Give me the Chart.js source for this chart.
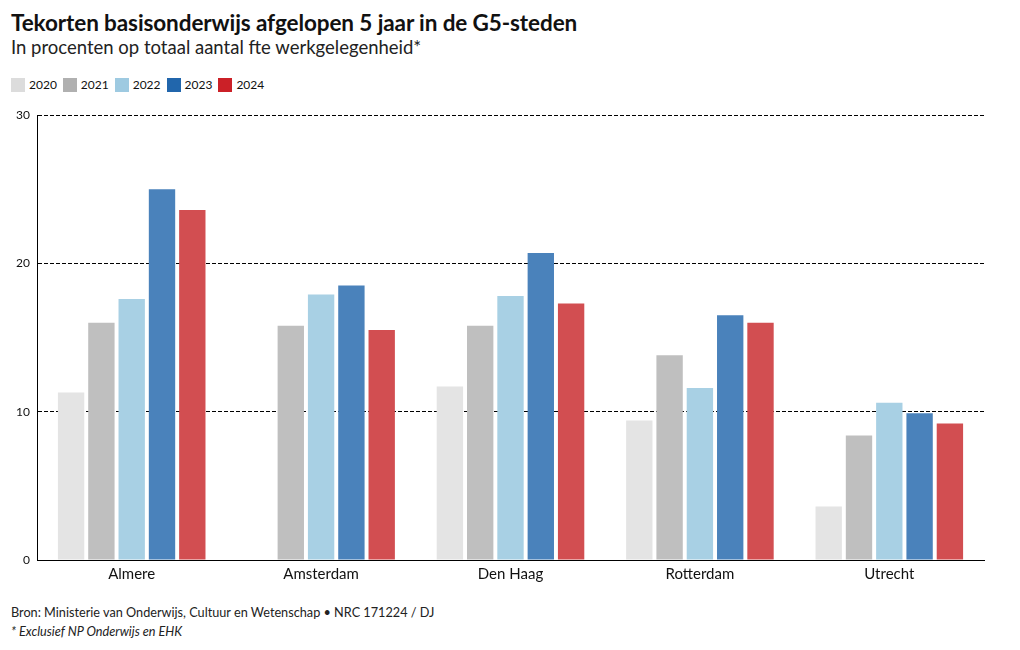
<!DOCTYPE html>
<html>
<head>
<meta charset="utf-8">
<script src="https://cdn.jsdelivr.net/npm/chart.js@4"></script>
<style>
  body { margin: 0; background: #fff; font-family: Lato, sans-serif; color: #111; }
  #wrap { position: relative; width: 1020px; height: 650px; }
  h1 { position: absolute; left: 11px; top: 9px; margin: 0; font-size: 22.5px; font-weight: 700; letter-spacing: -0.1px; }
  h2 { position: absolute; left: 11px; top: 36px; margin: 0; font-size: 18.5px; font-weight: 400; color: #222; }
  #legend { position: absolute; left: 11px; top: 77px; display: flex; font-size: 12px; }
  #legend span.item { display: flex; align-items: center; margin-right: 6px; }
  #legend i { display: inline-block; width: 14px; height: 14px; margin-right: 4px; }
  #chart-box { position: absolute; left: 0; top: 100px; width: 1020px; height: 490px; }
  .foot { position: absolute; left: 11px; margin: 0; font-size: 12.7px; color: #222; }
</style>
</head>
<body>
<div id="wrap">
  <h1>Tekorten basisonderwijs afgelopen 5 jaar in de G5-steden</h1>
  <h2>In procenten op totaal aantal fte werkgelegenheid*</h2>
  <div id="legend"></div>
  <div id="chart-box"><canvas id="chart"></canvas></div>
  <p class="foot" style="top:604px">Bron: Ministerie van Onderwijs, Cultuur en Wetenschap • NRC 171224 / DJ</p>
  <p class="foot" style="top:623px; font-style:italic">* Exclusief NP Onderwijs en EHK</p>
</div>
<script>
const cities = ['Almere', 'Amsterdam', 'Den Haag', 'Rotterdam', 'Utrecht'];
const years = ['2020', '2021', '2022', '2023', '2024'];

const values2020 = [11.3, null, 11.7, 9.4, 3.6];
const values2021 = [16.0, 15.8, 15.8, 13.8, 8.4];
const values2022 = [17.6, 17.9, 17.8, 11.6, 10.6];
const values2023 = [25.0, 18.5, 20.7, 16.5, 9.9];
const values2024 = [23.6, 15.5, 17.3, 16.0, 9.2];

const yTicks = [0, 10, 20, 30];

const legendColors = ['#dcdcdc', '#b0b0b0', '#9ecae1', '#2166ac', '#cb2027'];
const barColors = ['#e4e4e4', '#bfbfbf', '#a8d0e4', '#4a82bb', '#d24e51'];

const allValues = [values2020, values2021, values2022, values2023, values2024];

// legend in html
const legend = document.getElementById('legend');
years.forEach((y, i) => {
    const item = document.createElement('span');
    item.className = 'item';
    item.innerHTML = `<i style="background:${legendColors[i]}"></i>${y}`;
    legend.appendChild(item);
});

const ctx = document.getElementById('chart').getContext('2d');

new Chart(ctx, {
    type: 'bar',
    data: {
        labels: cities,
        datasets: years.map((y, i) => ({
            label: y,
            data: allValues[i],
            backgroundColor: barColors[i],
            categoryPercentage: 0.8,
            barPercentage: 0.87
        }))
    },
    options: {
        responsive: true,
        maintainAspectRatio: false,
        animation: false,
        layout: { padding: { top: 15, right: 36, left: 0, bottom: 0 } },
        plugins: {
            legend: { display: false },
            tooltip: { enabled: false }
        },
        scales: {
            x: {
                grid: { display: false, drawTicks: false },
                border: { display: true, color: '#000', width: 1 },
                ticks: { color: '#111', font: { family: 'Lato', size: 15 }, padding: 5 },
                afterFit: (scale) => { scale.height = 30; }
            },
            y: {
                min: 0,
                max: 30,
                afterBuildTicks: (scale) => { scale.ticks = yTicks.map(v => ({ value: v })); },
                grid: { color: '#000', lineWidth: 1, drawTicks: false },
                border: { display: true, color: '#000', width: 1, dash: [4, 2] },
                ticks: { color: '#111', font: { family: 'Lato', size: 12 }, padding: 7 },
                afterFit: (scale) => { scale.width = 37; }
            }
        }
    }
});
</script>
</body>
</html>
